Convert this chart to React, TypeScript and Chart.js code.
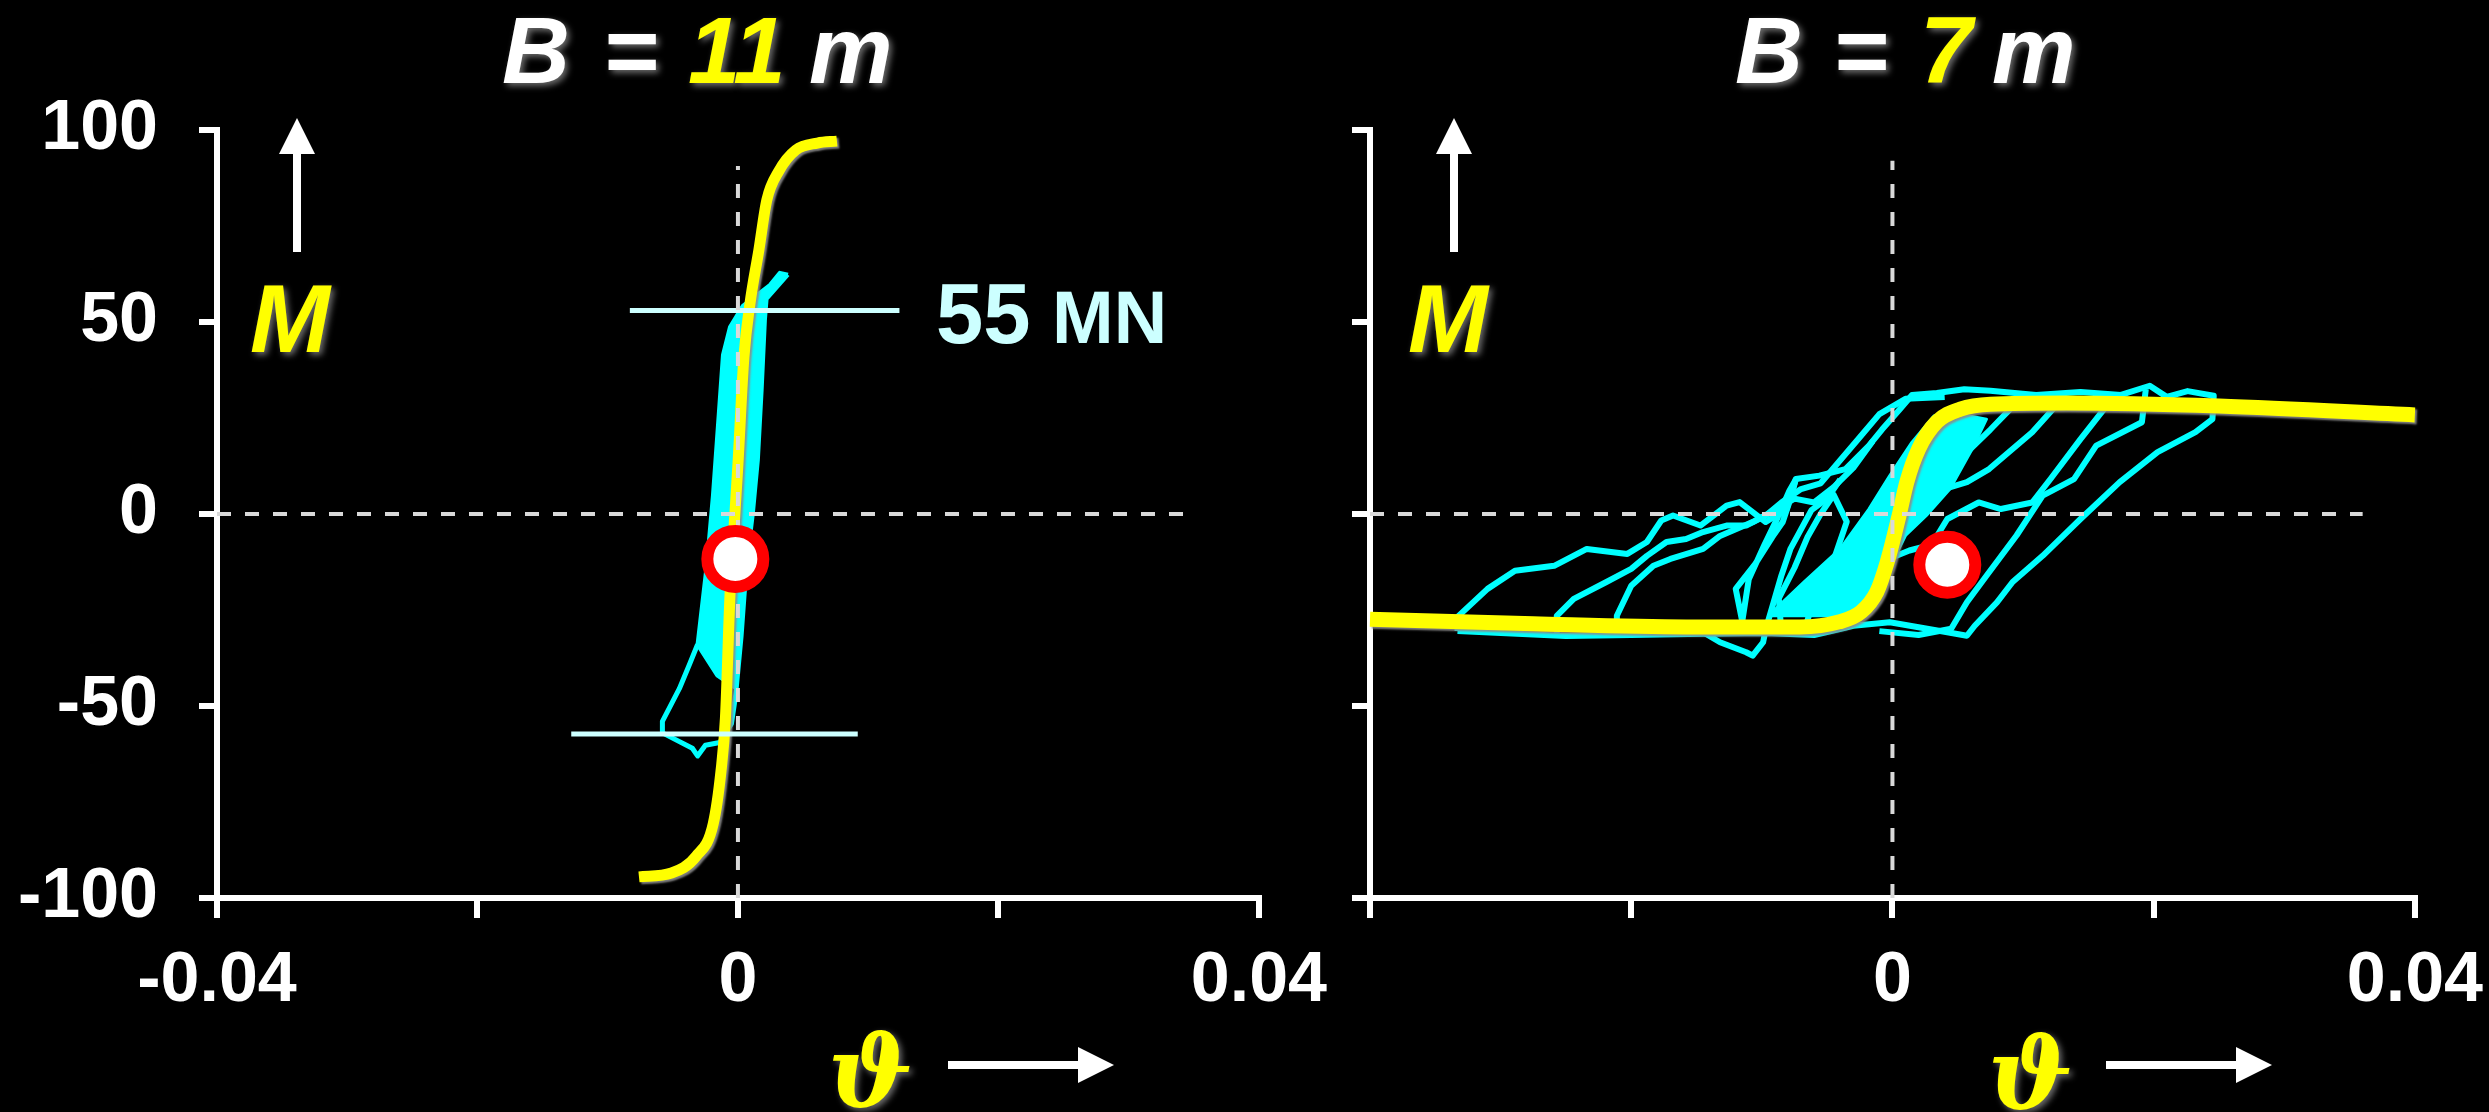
import React, { useEffect, useRef } from 'react';
import { Chart, registerables } from 'chart.js';

Chart.register(...registerables);

type P = [number, number];

// ---------- tick labels ----------
const xTickLabelsLeft = ['-0.04', '', '0', '', '0.04'];
const xTickLabelsRight = ['', '', '0', '', '0.04'];
const yTickLabelsLeft = ['-100', '-50', '0', '50', '100'];
const yTickLabelsRight = ['', '', '', '', ''];

// ---------- left chart (B = 11 m) ----------
const leftYellow: P[] = [
  [-0.0076, -94.5], [-0.0051, -93.5], [-0.0032, -89.1], [-0.0019, -80.7], [-0.0013, -66.9],
  [-0.00096, -53.1], [-0.00061, -21.1], [-0.00023, 0.3], [0.0, 13.0], [0.00046, 40.9],
  [0.00092, 54.7], [0.00161, 68.8], [0.00222, 81.8], [0.00314, 89.3], [0.00445, 94.8],
  [0.0061, 96.6], [0.0076, 97.1],
];
const leftBand: P[] = [
  [0.00384, 62.3], [0.0022, 56.0], [0.00207, 50.5], [0.00182, 32.3], [0.00153, 14.1],
  [0.00115, 0.3], [0.00067, -13.5], [0.00028, -31.8], [-0.0001, -45.5], [-0.0016, -42],
  [-0.0031, -34], [-0.0024, -13.5], [-0.00192, 4.8], [-0.00153, 23.2], [-0.00115, 41.4],
  [-0.00061, 48.7], [0.00038, 54.2], [0.00245, 59.6], [0.00322, 62.8], [0.00384, 62.3],
];
const leftLowerLoop: P[] = [
  [-0.0001, -45.5], [-0.0005, -54.6], [-0.0014, -59.5], [-0.0025, -60.2], [-0.0031, -63],
  [-0.0035, -61], [-0.0058, -57], [-0.0058, -54], [-0.0045, -45.5], [-0.0037, -39], [-0.0031, -34],
];
const leftLimitUpper: P[] = [[-0.0083, 53], [0.0124, 53]];
const leftLimitLower: P[] = [[-0.0128, -57.3], [0.0092, -57.3]];
const leftZeroV: P[] = [[0, -100], [0, 90.6]];
const leftZeroH: P[] = [[-0.04, 0], [0.035, 0]];
const leftMarker: P[] = [[-0.0002, -11.7]];

// ---------- right chart (B = 7 m) ----------
const rightYellow: P[] = [
  [-0.04, -27.4], [-0.0275, -28.6], [-0.0158, -29.4], [-0.0071, -29.4], [-0.0041, -28.1],
  [-0.0024, -25.5], [-0.0012, -20.3], [-0.0004, -12.5], [0.0005, -0.5], [0.0011, 8.3],
  [0.002, 16.9], [0.0034, 24], [0.0052, 27.3], [0.0075, 28.6], [0.0133, 28.9],
  [0.025, 28.1], [0.04, 25.8],
];
const rLoopOuter: P[] = [
  [-0.0333, -30.5], [-0.0333, -26.8], [-0.031, -19.5], [-0.0289, -14.8], [-0.0259, -13.5],
  [-0.0234, -9.1], [-0.0203, -10.4], [-0.0188, -7.3], [-0.0177, -1.7], [-0.0168, -0.4],
  [-0.0147, -3.0], [-0.0127, 2.2], [-0.0117, 3.1], [-0.0097, -2.1], [-0.0081, 1.3],
  [-0.0074, 9.1], [-0.0056, 10.0], [-0.0036, 11.7], [-0.0018, 17.8], [-0.0008, 22],
  [0.0005, 27], [0.0015, 31], [0.0034, 31.5], [0.0055, 32.5], [0.0075, 32.1], [0.011, 31],
  [0.0144, 31.8], [0.0175, 31], [0.0197, 33.4], [0.021, 30.5], [0.0226, 32], [0.0246, 30.8],
  [0.0245, 24.7], [0.0232, 21.3], [0.0203, 16.1], [0.0174, 8.3], [0.0144, -1.3],
  [0.0115, -10.9], [0.0092, -17.7], [0.008, -23], [0.0063, -29.1], [0.0057, -31.7],
  [0.0042, -30.8], [0.002, -29.5], [-0.0002, -28.2], [-0.003, -29.1], [-0.006, -31.5],
  [-0.0097, -31], [-0.0145, -31.2], [-0.02, -31.5], [-0.025, -31.8], [-0.0333, -30.5],
];
const rLoop2: P[] = [
  [-0.0257, -31], [-0.0257, -26.5], [-0.0244, -22.1], [-0.0219, -17.7], [-0.02, -14.3],
  [-0.0188, -10.9], [-0.0173, -7.3], [-0.0158, -6.5], [-0.0145, -4.7], [-0.0127, -3.0],
  [-0.0112, -3.0], [-0.0097, -0.4], [-0.0085, 3], [-0.007, 6.5], [-0.0055, 8], [-0.004, 14],
  [-0.0025, 20], [-0.001, 26], [0.001, 30], [0.004, 30.5],
];
const rLoop3: P[] = [
  [-0.0211, -30], [-0.0211, -26.5], [-0.02, -18.7], [-0.0183, -13.5], [-0.017, -11.7],
  [-0.0145, -9.1], [-0.0132, -5.7], [-0.0107, -2.1], [-0.009, 1], [-0.0075, 4], [-0.006, 3],
  [-0.0045, 7], [-0.003, 12], [-0.0015, 19],
];
const rLoop4: P[] = [
  [-0.0145, -30.8], [-0.0132, -33.4], [-0.0112, -36], [-0.0107, -36.9], [-0.0099, -33.4],
  [-0.0097, -30], [-0.0091, -23], [-0.0085, -16], [-0.0078, -9], [-0.007, -4], [-0.0062, 1],
  [-0.005, 4], [-0.004, 9],
];
const rLoop5: P[] = [
  [-0.0115, -28], [-0.012, -19.5], [-0.0105, -13], [-0.0092, -6], [-0.0084, -2.1],
  [-0.0078, 4], [-0.0074, 9], [-0.0079, 6], [-0.0088, -1], [-0.0098, -8], [-0.011, -17],
  [-0.0115, -28],
];
const rLoop6: P[] = [
  [-0.0085, -31], [-0.0087, -22], [-0.0075, -14], [-0.0065, -6], [-0.0055, 0], [-0.0045, 5],
  [-0.0035, -2], [-0.0045, -12], [-0.006, -22], [-0.0068, -31],
];
const rDense: P[] = [
  [-0.0095, -26.5], [-0.0068, -17.8], [-0.004, -9.1], [-0.0018, 1.3], [-0.0002, 10.0],
  [0.0015, 18.7], [0.0032, 25.6], [0.0058, 25.6], [0.0072, 24.7], [0.0061, 16.9],
  [0.0044, 6.5], [0.0026, -0.4], [0.001, -5.6], [-0.0008, -17.8], [-0.0026, -26.5],
  [-0.0095, -26.5],
];
const rLoop7: P[] = [
  [0.0194, 32.5], [0.0191, 23.9], [0.0156, 17.8], [0.0139, 9.1], [0.0115, 4.8],
  [0.0095, -5.6], [0.0072, -16.1], [0.0057, -23], [0.0045, -29.9], [0.002, -31.5],
  [-0.001, -30.5],
];
const rLoop8: P[] = [
  [0.0175, 31], [0.0162, 27.3], [0.0144, 19.5], [0.0121, 9.1], [0.0107, 3], [0.0083, 1.3],
  [0.0066, 3.0], [0.0042, -1.3], [0.003, -8], [0.0013, -9.5], [-0.0005, -12],
];
const rLoop9: P[] = [
  [0.013, 30], [0.0107, 21.3], [0.0074, 11.7], [0.0057, 8.3], [0.0035, 6], [0.002, 3],
];
const rLoop10: P[] = [[0.0095, 29], [0.0075, 22], [0.006, 17], [0.0045, 12]];
const rightZeroV: P[] = [[0, -100], [0, 92]];
const rightZeroH: P[] = [[-0.04, 0], [0.036, 0]];
const rightMarker: P[] = [[0.0042, -13.2]];

// ---------- styling ----------
const FONT = "'Liberation Sans', Arial, Helvetica, sans-serif";
const CYAN = '#00ffff';
const PALE = '#ccffff';
const YELLOW = '#ffff00';
const DASH = '#d9d9d9';

const pts = (a: P[]) => a.map(([x, y]) => ({ x, y }));

function lineDs(data: P[], color: string, width: number, order: number, extra: any = {}) {
  return {
    data: pts(data),
    borderColor: color,
    backgroundColor: color,
    borderWidth: width,
    pointRadius: 0,
    tension: 0,
    fill: false,
    order,
    clip: false,
    borderJoinStyle: 'round',
    borderCapStyle: 'butt',
    ...extra,
  };
}

function markerDs(data: P[]) {
  return {
    data: pts(data),
    showLine: false,
    pointRadius: 28,
    pointBorderWidth: 12,
    pointBorderColor: '#ff0000',
    pointBackgroundColor: '#ffffff',
    borderColor: '#ff0000',
    backgroundColor: '#ffffff',
    order: 0,
    clip: false,
  };
}

// gray drop shadow under the yellow fit curves
const shadowPlugin = {
  id: 'dsShadow',
  beforeDatasetDraw(chart: any, args: any) {
    const ds = chart.data.datasets[args.index];
    if (ds && ds.dropShadow) {
      const ctx = chart.ctx;
      ctx.save();
      ctx.shadowColor = 'rgba(140,140,140,0.9)';
      ctx.shadowBlur = 2;
      ctx.shadowOffsetX = 2;
      ctx.shadowOffsetY = 2;
    }
  },
  afterDatasetDraw(chart: any, args: any) {
    const ds = chart.data.datasets[args.index];
    if (ds && ds.dropShadow) chart.ctx.restore();
  },
};

type TextItem = { t: string; x: number; y: number; font: string; color: string; shadow?: boolean };
type Arrow = { x1: number; y1: number; x2: number; y2: number };

function makePlugin(texts: TextItem[], arrows: Arrow[]) {
  return {
    id: 'annot',
    afterDraw(chart: any) {
      const ctx = chart.ctx as CanvasRenderingContext2D;
      ctx.save();
      for (const a of arrows) {
        const ang = Math.atan2(a.y2 - a.y1, a.x2 - a.x1);
        const head = 36;
        const half = 18;
        const bx = a.x2 - head * Math.cos(ang);
        const by = a.y2 - head * Math.sin(ang);
        ctx.strokeStyle = '#ffffff';
        ctx.fillStyle = '#ffffff';
        ctx.lineWidth = 8;
        ctx.beginPath();
        ctx.moveTo(a.x1, a.y1);
        ctx.lineTo(bx, by);
        ctx.stroke();
        ctx.beginPath();
        ctx.moveTo(a.x2, a.y2);
        ctx.lineTo(bx + half * Math.sin(ang), by - half * Math.cos(ang));
        ctx.lineTo(bx - half * Math.sin(ang), by + half * Math.cos(ang));
        ctx.closePath();
        ctx.fill();
      }
      ctx.textAlign = 'left';
      ctx.textBaseline = 'alphabetic';
      for (const tx of texts) {
        ctx.font = tx.font;
        if (tx.shadow) {
          ctx.shadowColor = 'rgba(120,120,120,0.9)';
          ctx.shadowBlur = 6;
          ctx.shadowOffsetX = 3;
          ctx.shadowOffsetY = 3;
        } else {
          ctx.shadowColor = 'transparent';
          ctx.shadowBlur = 0;
          ctx.shadowOffsetX = 0;
          ctx.shadowOffsetY = 0;
        }
        ctx.fillStyle = tx.color;
        ctx.fillText(tx.t, tx.x, tx.y);
      }
      ctx.restore();
    },
  };
}

const TITLE_FONT = `italic bold 94px ${FONT}`;
const M_FONT = `italic bold 96px ${FONT}`;
const THETA_FONT = `italic bold 100px 'DejaVu Serif', 'DejaVu Sans', serif`;

const leftTexts: TextItem[] = [
  { t: 'B', x: 502, y: 83, font: TITLE_FONT, color: '#ffffff', shadow: true },
  { t: '=', x: 603, y: 83, font: TITLE_FONT, color: '#ffffff', shadow: true },
  { t: '11', x: 688, y: 83, font: TITLE_FONT, color: YELLOW, shadow: true },
  { t: 'm', x: 809, y: 83, font: TITLE_FONT, color: '#ffffff', shadow: true },
  { t: 'M', x: 250, y: 352, font: M_FONT, color: YELLOW, shadow: true },
  { t: 'ϑ', x: 828, y: 1106, font: THETA_FONT, color: YELLOW, shadow: true },
  { t: '55', x: 936, y: 343, font: `bold 85px ${FONT}`, color: PALE },
  { t: 'MN', x: 1052, y: 343, font: `bold 74px ${FONT}`, color: PALE },
];
const leftArrows: Arrow[] = [
  { x1: 297, y1: 252, x2: 297, y2: 118 },
  { x1: 948, y1: 1065, x2: 1114, y2: 1065 },
];

const RO = 1330; // right canvas offset on the page
const rightTexts: TextItem[] = [
  { t: 'B', x: 1735 - RO, y: 83, font: TITLE_FONT, color: '#ffffff', shadow: true },
  { t: '=', x: 1833 - RO, y: 83, font: TITLE_FONT, color: '#ffffff', shadow: true },
  { t: '7', x: 1920 - RO, y: 83, font: TITLE_FONT, color: YELLOW, shadow: true },
  { t: 'm', x: 1992 - RO, y: 83, font: TITLE_FONT, color: '#ffffff', shadow: true },
  { t: 'M', x: 1408 - RO, y: 352, font: M_FONT, color: YELLOW, shadow: true },
  { t: 'ϑ', x: 1988 - RO, y: 1108, font: THETA_FONT, color: YELLOW, shadow: true },
];
const rightArrows: Arrow[] = [
  { x1: 1454 - RO, y1: 252, x2: 1454 - RO, y2: 118 },
  { x1: 2106 - RO, y1: 1065, x2: 2272 - RO, y2: 1065 },
];

function makeConfig(
  datasets: any[],
  xLabels: string[],
  yLabels: string[],
  yAxisWidth: number,
  plugin: any
) {
  const tickFont = { family: FONT, size: 70, weight: 'bold' as const };
  return {
    type: 'line' as const,
    data: { datasets },
    options: {
      animation: false as const,
      responsive: false,
      maintainAspectRatio: false,
      events: [],
      layout: { padding: { top: 130, right: 0, left: 0, bottom: 0 } },
      plugins: { legend: { display: false }, tooltip: { enabled: false }, title: { display: false } },
      scales: {
        x: {
          type: 'linear' as const,
          min: -0.04,
          max: 0.04,
          ticks: {
            stepSize: 0.02,
            autoSkip: false,
            maxRotation: 0,
            color: '#ffffff',
            font: tickFont,
            padding: 22,
            callback: (_v: any, i: number) => xLabels[i] ?? '',
          },
          grid: { display: true, drawOnChartArea: false, drawTicks: true, tickLength: 20, color: '#ffffff', lineWidth: 6 },
          border: { display: true, color: '#ffffff', width: 6 },
          afterFit: (s: any) => { s.height = 214; },
        },
        y: {
          type: 'linear' as const,
          min: -100,
          max: 100,
          ticks: {
            stepSize: 50,
            autoSkip: false,
            color: '#ffffff',
            font: tickFont,
            padding: 41,
            callback: (_v: any, i: number) => yLabels[i] ?? '',
          },
          grid: { display: true, drawOnChartArea: false, drawTicks: true, tickLength: 18, color: '#ffffff', lineWidth: 6 },
          border: { display: true, color: '#ffffff', width: 6 },
          afterFit: (s: any) => { s.width = yAxisWidth; },
        },
      },
    },
    plugins: [shadowPlugin, plugin],
  };
}

// canvas widths chosen so that the plot areas end at the reference pixel positions
const LEFT_W = 1349;
const RIGHT_W = 1175;

export default function App() {
  const leftRef = useRef<HTMLCanvasElement>(null);
  const rightRef = useRef<HTMLCanvasElement>(null);

  useEffect(() => {
    document.body.style.margin = '0';
    document.body.style.background = '#000';
    const leftDatasets = [
      lineDs(leftBand, CYAN, 4, 5, { fill: 'shape' }),
      lineDs(leftLowerLoop, CYAN, 5, 5),
      lineDs(leftYellow, YELLOW, 11, 3, { cubicInterpolationMode: 'monotone', dropShadow: true }),
      lineDs(leftLimitUpper, PALE, 5, 2),
      lineDs(leftLimitLower, PALE, 5, 2),
      lineDs(leftZeroV, DASH, 4, 1, { borderDash: [14, 14] }),
      lineDs(leftZeroH, DASH, 4, 1, { borderDash: [14, 14] }),
      markerDs(leftMarker),
    ];
    const rightDatasets = [
      lineDs(rDense, CYAN, 3, 6, { fill: 'shape' }),
      lineDs(rLoopOuter, CYAN, 6, 5),
      lineDs(rLoop2, CYAN, 6, 5),
      lineDs(rLoop3, CYAN, 6, 5),
      lineDs(rLoop4, CYAN, 6, 5),
      lineDs(rLoop5, CYAN, 6, 5),
      lineDs(rLoop6, CYAN, 6, 5),
      lineDs(rLoop7, CYAN, 6, 5),
      lineDs(rLoop8, CYAN, 6, 5),
      lineDs(rLoop9, CYAN, 6, 5),
      lineDs(rLoop10, CYAN, 6, 5),
      lineDs(rightYellow, YELLOW, 15, 3, { cubicInterpolationMode: 'monotone', dropShadow: true }),
      lineDs(rightZeroV, DASH, 4, 1, { borderDash: [14, 14] }),
      lineDs(rightZeroH, DASH, 4, 1, { borderDash: [14, 14] }),
      markerDs(rightMarker),
    ];
    const lc = new Chart(
      leftRef.current!,
      makeConfig(leftDatasets, xTickLabelsLeft, yTickLabelsLeft, 217, makePlugin(leftTexts, leftArrows)) as any
    );
    const rc = new Chart(
      rightRef.current!,
      makeConfig(rightDatasets, xTickLabelsRight, yTickLabelsRight, 34, makePlugin(rightTexts, rightArrows)) as any
    );
    return () => {
      lc.destroy();
      rc.destroy();
    };
  }, []);

  return (
    <div style={{ position: 'fixed', left: 0, top: 0, width: 2489, height: 1112, background: '#000', overflow: 'hidden' }}>
      <canvas
        ref={leftRef}
        width={LEFT_W}
        height={1112}
        style={{ position: 'absolute', left: 0, top: 0, width: LEFT_W, height: 1112 }}
      />
      <canvas
        ref={rightRef}
        width={RIGHT_W}
        height={1112}
        style={{ position: 'absolute', left: RO, top: 0, width: RIGHT_W, height: 1112 }}
      />
    </div>
  );
}
